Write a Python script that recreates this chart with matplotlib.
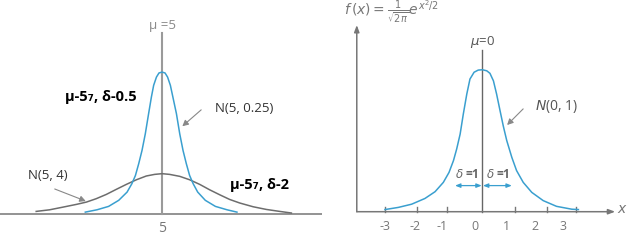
import matplotlib.pyplot as plt

plt.rcParams['font.family'] = ['Open Sans', 'DejaVu Sans']
plt.rcParams['mathtext.fontset'] = 'dejavusans'

# left panel: two normal curves around mu = 5
narrow_x = [1.97, 2.43, 2.89, 3.29, 3.62, 3.81, 3.95, 4.08, 4.21, 4.34, 4.47, 4.58,
            4.67, 4.78, 4.88, 5.00, 5.12, 5.22, 5.33, 5.43, 5.57, 5.70, 5.83, 5.96,
            6.09, 6.23, 6.41, 6.71, 7.11, 7.57, 7.96]
narrow_y = [0.009, 0.022, 0.041, 0.075, 0.121, 0.168, 0.214, 0.280, 0.354, 0.447,
            0.559, 0.652, 0.718, 0.764, 0.787, 0.792, 0.787, 0.764, 0.718, 0.652,
            0.559, 0.447, 0.354, 0.280, 0.214, 0.168, 0.121, 0.075, 0.041, 0.022, 0.009]
wide_x = [0.03, 0.56, 1.09, 1.61, 2.01, 2.40, 2.80, 3.19, 3.59, 3.99, 4.38, 4.71, 5.00,
          5.30, 5.70, 6.09, 6.49, 6.88, 7.28, 7.67, 8.07, 8.60, 9.12, 9.65, 10.11]
wide_y = [0.013, 0.022, 0.037, 0.052, 0.065, 0.084, 0.108, 0.136, 0.164, 0.190, 0.211,
          0.220, 0.224, 0.220, 0.209, 0.190, 0.164, 0.134, 0.106, 0.080, 0.060, 0.039,
          0.024, 0.013, 0.004]

# right panel: standard normal
std_x = [-3.07, -2.65, -2.23, -1.81, -1.49, -1.23, -1.05, -0.91, -0.81, -0.70, -0.60,
         -0.49, -0.39, -0.26, -0.13, 0.00, 0.14, 0.24, 0.35, 0.45, 0.56, 0.66, 0.77,
         0.93, 1.08, 1.29, 1.56, 1.92, 2.34, 2.82, 3.03]
std_y = [0.006, 0.012, 0.021, 0.037, 0.056, 0.082, 0.110, 0.143, 0.175, 0.217, 0.273,
         0.329, 0.371, 0.390, 0.396, 0.397, 0.394, 0.387, 0.366, 0.329, 0.282, 0.240,
         0.199, 0.152, 0.115, 0.082, 0.054, 0.031, 0.015, 0.007, 0.006]
tick_vals = [-3.07, -2.07, -1.13, 1.03, 2.03, 2.95]
tick_labels = ['-3', '-2', '-1', '0', '1', '2', '3']
label_pos = [-3.07, -2.12, -1.28, -0.23, 0.77, 1.66, 2.56]

BLUE = '#3a9fcf'
GRAY = '#6d6d6d'

fig = plt.figure(figsize=(6.38, 2.47), dpi=100)

# ---- left ----
ax = fig.add_axes([0, 0, 322 / 638, 1])
ax.set_xlim(-1.40, 11.32)
ax.set_ylim(-0.186, 1.195)
ax.axis('off')

ax.axhline(0, color='#808080', lw=1.2)
ax.plot([5, 5], [0, 1.01], color='#9a9a9a', lw=1.5)
ax.plot(wide_x, wide_y, color=GRAY, lw=1.1)
ax.plot(narrow_x, narrow_y, color=BLUE, lw=1.1)

ax.text(5, 1.055, 'μ =5', color='#8a8a8a', fontsize=9.5, ha='center', va='center')
ax.text(5, -0.08, '5', color='#777777', fontsize=10, ha='center', va='center')
ax.text(1.15, 0.653, 'μ-5₇, δ-0.5', fontsize=10.5, fontweight='bold', ha='left', va='center')
ax.text(7.70, 0.16, 'μ-5₇, δ-2', fontsize=10.5, fontweight='bold', ha='left', va='center')
ax.text(7.11, 0.591, 'N(5, 0.25)', color='#333333', fontsize=9.5, ha='left', va='center')
ax.text(-0.28, 0.216, 'N(5, 4)', color='#333333', fontsize=9.5, ha='left', va='center')

arrow = dict(arrowstyle='-|>,head_width=0.18,head_length=0.35', color='#888888', lw=0.8)
ax.annotate('', xy=(5.72, 0.479), xytext=(6.63, 0.591), arrowprops=arrow)
ax.annotate('', xy=(2.09, 0.065), xytext=(0.66, 0.144), arrowprops=arrow)

# ---- right ----
ax2 = fig.add_axes([320 / 638, 0, 318 / 638, 1])
ax2.set_xlim(-5.12, 4.91)
ax2.set_ylim(-0.0987, 0.592)
ax2.axis('off')

axis_arrow = dict(arrowstyle='-|>,head_width=0.15,head_length=0.4', color='#777777', lw=1.1,
                  shrinkA=0, shrinkB=0)
ax2.annotate('', xy=(4.19, 0), xytext=(-3.96, 0), arrowprops=axis_arrow)
ax2.annotate('', xy=(-3.96, 0.522), xytext=(-3.96, 0), arrowprops=axis_arrow)
ax2.plot([0, 0], [0, 0.452], color='#666666', lw=1.0)
for t in tick_vals:
    ax2.plot([t, t], [0, 0.013], color='#777777', lw=1.0)
for pos, lab in zip(label_pos, tick_labels):
    ax2.text(pos, -0.04, lab, color='#777777', fontsize=9, ha='center', va='center')

ax2.plot(std_x, std_y, color=BLUE, lw=1.1)

ax2.text(4.43, 0.0075, '$x$', color='#777777', fontsize=10, ha='center', va='center')
ax2.text(0, 0.475, r'$\mu$=0', color='#555555', fontsize=9.5, ha='center', va='center')
ax2.text(-4.35, 0.558, r'$f\,(x) = \frac{1}{\sqrt{2\pi}}e^{x^2/2}$', color='#777777',
         fontsize=10, ha='left', va='center')
ax2.text(1.66, 0.293, r'$N$(0, 1)', color='#555555', fontsize=10,
         ha='left', va='center')
ax2.annotate('', xy=(0.72, 0.237), xytext=(1.35, 0.293), arrowprops=arrow)

delta_arrow = dict(arrowstyle='<|-|>,head_width=0.12,head_length=0.3', color=BLUE, lw=0.9,
                   shrinkA=0, shrinkB=0)
ax2.annotate('', xy=(-0.02, 0.073), xytext=(-0.86, 0.073), arrowprops=delta_arrow)
ax2.annotate('', xy=(0.93, 0.073), xytext=(0.02, 0.073), arrowprops=delta_arrow)
ax2.text(-0.48, 0.103, r'$\delta$ =1', color='#666666', fontsize=8.5, fontweight='bold',
         ha='center', va='center')
ax2.text(0.50, 0.103, r'$\delta$ =1', color='#666666', fontsize=8.5, fontweight='bold',
         ha='center', va='center')

fig.savefig('out.png', dpi=100)
